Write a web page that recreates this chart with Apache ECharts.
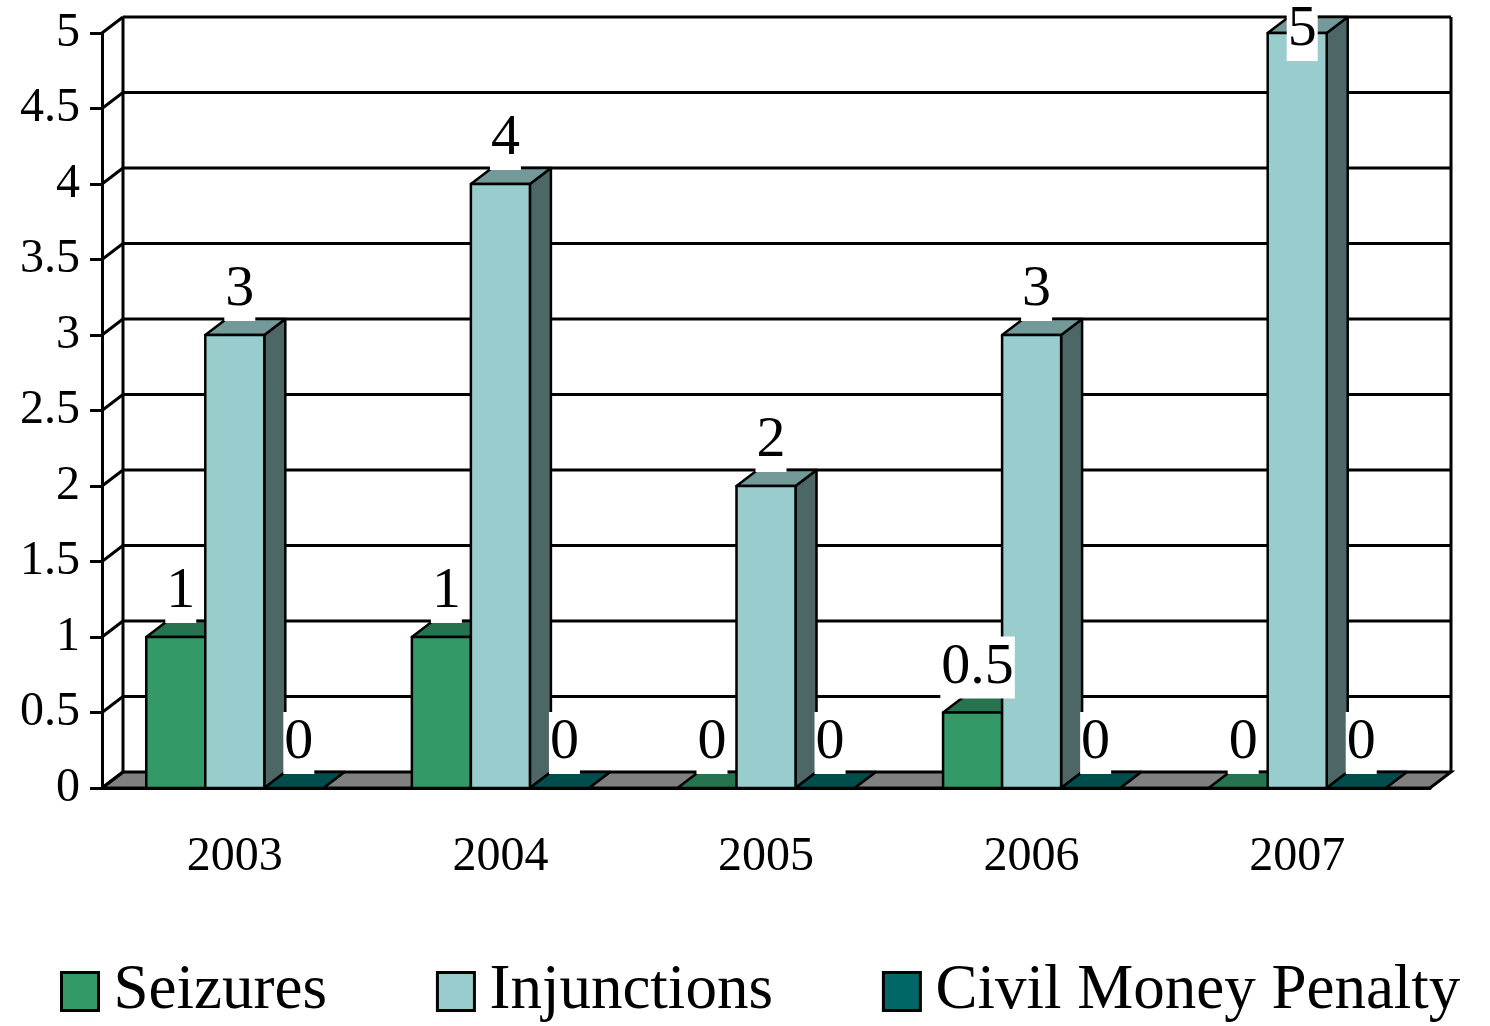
<!DOCTYPE html>
<html>
<head>
<meta charset="utf-8">
<script src="https://cdn.jsdelivr.net/npm/echarts@6/dist/echarts.min.js"></script>
<style>
html, body { margin: 0; padding: 0; background: #fff; }
#chart { width: 1490px; height: 1026px; }
</style>
</head>
<body>
<div id="chart"></div>
<script>
const years = ['2003', '2004', '2005', '2006', '2007'];
const seizures = [1, 1, 0, 0.5, 0];
const injunctions = [3, 4, 2, 3, 5];
const civilMoneyPenalty = [0, 0, 0, 0, 0];
const valueTicks = [0, 0.5, 1, 1.5, 2, 2.5, 3, 3.5, 4, 4.5, 5];

const seriesNames = ['Seizures', 'Injunctions', 'Civil Money Penalty'];
const seriesValues = [seizures, injunctions, civilMoneyPenalty];
const faceColors = [
    { front: '#339966', top: '#267350', side: '#1a4d33' },
    { front: '#99cccc', top: '#739999', side: '#4d6666' },
    { front: '#006666', top: '#004d4d', side: '#003333' },
];

// depth of the 3d box (right and up)
const depthX = 21;
const depthY = -16;
const serif = "'Liberation Serif', 'DejaVu Serif', serif";

const chart = echarts.init(document.getElementById('chart'));

function renderWalls(params, api) {
    const cs = params.coordSys;
    const x0 = cs.x;
    const x1 = cs.x + cs.width;
    const y0 = api.coord([0, 0])[1];
    const yTop = api.coord([0, valueTicks[valueTicks.length - 1]])[1];
    const line = { stroke: '#000', lineWidth: 3 };
    const children = [];

    children.push({
        type: 'polygon',
        shape: { points: [[x0, y0], [x1, y0], [x1 + depthX, y0 + depthY], [x0 + depthX, y0 + depthY]] },
        style: { fill: '#808080', stroke: '#000', lineWidth: 3 },
    });
    valueTicks.forEach((v) => {
        const y = api.coord([0, v])[1];
        if (v > 0) {
            children.push({
                type: 'line',
                shape: { x1: x0 + depthX, y1: y + depthY, x2: x1 + depthX, y2: y + depthY },
                style: line,
            });
        }
        children.push({
            type: 'line',
            shape: { x1: x0, y1: y, x2: x0 + depthX, y2: y + depthY },
            style: line,
        });
    });
    children.push({
        type: 'line',
        shape: { x1: x0 + depthX, y1: y0 + depthY, x2: x0 + depthX, y2: yTop + depthY },
        style: line,
    });
    children.push({
        type: 'line',
        shape: { x1: x1 + depthX, y1: y0 + depthY, x2: x1 + depthX, y2: yTop + depthY },
        style: line,
    });
    return { type: 'group', children };
}

function barRenderer(index) {
    const colors = faceColors[index];
    return function (params, api) {
        const cat = api.value(0);
        const val = api.value(1);
        const base = api.coord([cat, 0]);
        const top = api.coord([cat, val]);
        const bandW = api.size([1, 0])[0];
        const barW = bandW / 4.5;
        const left = base[0] - bandW / 2 + barW * 0.75 + index * barW;
        const right = left + barW;
        const ty = top[1];
        const by = base[1];
        const edge = { stroke: '#000', lineWidth: 2.5, lineJoin: 'round' };
        const children = [];

        children.push({
            type: 'polygon',
            shape: { points: [[right, ty], [right + depthX, ty + depthY], [right + depthX, by + depthY], [right, by]] },
            style: Object.assign({ fill: colors.side }, edge),
        });
        children.push({
            type: 'polygon',
            shape: { points: [[left, ty], [right, ty], [right + depthX, ty + depthY], [left + depthX, ty + depthY]] },
            style: Object.assign({ fill: colors.top }, edge),
        });
        if (by - ty > 0.5) {
            children.push({
                type: 'rect',
                shape: { x: left, y: ty, width: barW, height: by - ty },
                style: Object.assign({ fill: colors.front }, edge),
            });
        }
        children.push({
            type: 'text',
            x: left + barW / 2 + 5,
            y: Math.max(ty - 45, 30),
            z2: 100,
            style: {
                text: String(val),
                font: '58px ' + serif,
                fill: '#000',
                align: 'center',
                verticalAlign: 'middle',
                backgroundColor: '#fff',
                padding: [0, 1, 4, 1],
            },
        });
        return { type: 'group', children };
    };
}

const option = {
    animation: false,
    backgroundColor: '#fff',
    grid: {
        left: 102,
        right: 60,
        top: 33,
        bottom: 238,
    },
    legend: {
        left: 55,
        top: 955,
        itemWidth: 37,
        itemHeight: 38,
        itemGap: 109,
        icon: 'rect',
        itemStyle: { borderColor: '#000', borderWidth: 3 },
        textStyle: {
            fontFamily: serif,
            fontSize: 63,
            color: '#000',
            padding: [0, 0, 0, 10],
        },
        data: seriesNames,
    },
    xAxis: {
        type: 'category',
        data: years,
        axisLine: { lineStyle: { color: '#000', width: 3 } },
        axisTick: { length: 12, interval: 0, lineStyle: { color: '#000', width: 3 } },
        axisLabel: { margin: 45, fontFamily: serif, fontSize: 48, color: '#000' },
        splitLine: { show: false },
    },
    yAxis: {
        type: 'value',
        min: valueTicks[0],
        max: valueTicks[valueTicks.length - 1],
        interval: valueTicks[1] - valueTicks[0],
        axisLine: { show: true, lineStyle: { color: '#000', width: 3 } },
        axisTick: { show: true, length: 12, lineStyle: { color: '#000', width: 3 } },
        axisLabel: { margin: 22, fontFamily: serif, fontSize: 48, color: '#000' },
        splitLine: { show: false },
    },
    series: [
        {
            type: 'custom',
            name: 'walls',
            silent: true,
            z: 1,
            renderItem: renderWalls,
            data: [[0, 0]],
        },
    ].concat(seriesNames.map((name, i) => ({
        type: 'custom',
        name: name,
        z: 3,
        itemStyle: { color: faceColors[i].front },
        renderItem: barRenderer(i),
        data: seriesValues[i].map((v, j) => [j, v]),
    }))),
};

chart.setOption(option);
</script>
</body>
</html>
